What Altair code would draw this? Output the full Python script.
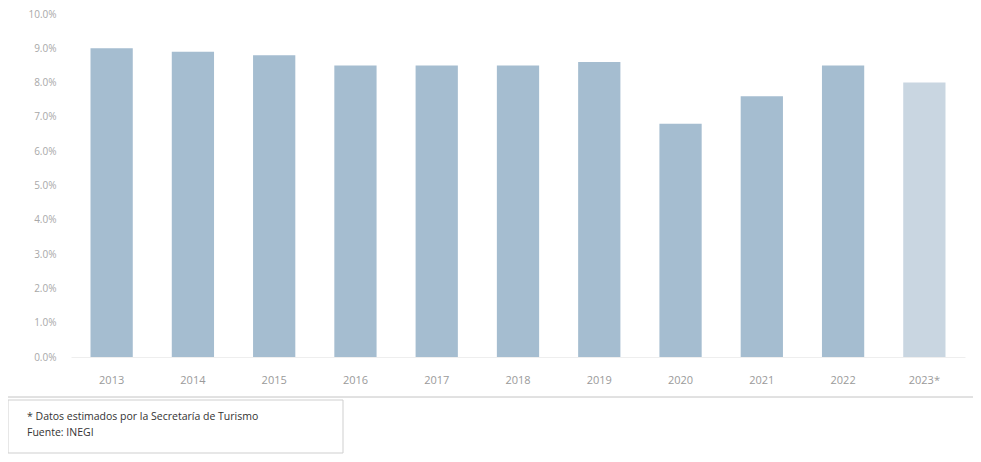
import altair as alt
import pandas as pd

years = ["2013", "2014", "2015", "2016", "2017", "2018", "2019", "2020", "2021", "2022", "2023*"]
values = [9.0, 8.9, 8.8, 8.5, 8.5, 8.5, 8.6, 6.8, 7.6, 8.5, 8.0]
kind = ["real"] * 10 + ["estimado"]
y_ticks = [0, 1, 2, 3, 4, 5, 6, 7, 8, 9, 10]
notes = ["* Datos estimados por la Secretaría de Turismo", "Fuente: INEGI"]

df = pd.DataFrame({"year": years, "value": values, "kind": kind})

W, H = 894, 343
TOP = 6

bars = alt.Chart(df).mark_bar().encode(
    x=alt.X("year:N", sort=years, title=None,
            scale=alt.Scale(paddingInner=0.48, paddingOuter=0.24),
            axis=alt.Axis(labelAngle=0, ticks=False, domain=True, domainColor="#eeeeee",
                          labelPadding=17, labelFontSize=11, labelColor="#9a9a9a",
                          labelFont="Open Sans")),
    y=alt.Y("value:Q", title=None,
            scale=alt.Scale(domain=[0, 10], nice=False),
            axis=alt.Axis(values=y_ticks, grid=False, ticks=False, domain=False,
                          labelExpr="format(datum.value, '.1f') + '%'",
                          labelPadding=15, labelFontSize=10, labelColor="#a8a8a8",
                          labelFont="Open Sans")),
    color=alt.Color("kind:N", legend=None,
                    scale=alt.Scale(domain=["real", "estimado"], range=["#a5bdd0", "#c9d6e1"])),
)

# offsets relative to plot area origin (page y = 8 + TOP + offset)
y0 = 8 + TOP

rule = alt.Chart(pd.DataFrame({"a": [0]})).mark_rule(color="#c4c4c4", strokeWidth=1).encode(
    x=alt.value(-71), x2=alt.value(910), y=alt.value(397 - y0)
)

box = alt.Chart(pd.DataFrame({"a": [0]})).mark_rect(
    fill="white", stroke="#cfcfcf", strokeWidth=1
).encode(x=alt.value(-63), x2=alt.value(272), y=alt.value(400 - y0), y2=alt.value(453 - y0))

note1 = alt.Chart(pd.DataFrame({"t": [notes[0]]})).mark_text(
    align="left", baseline="middle", fontSize=10.5, color="#333333", font="Open Sans"
).encode(text="t:N", x=alt.value(-44), y=alt.value(417 - y0))

note2 = alt.Chart(pd.DataFrame({"t": [notes[1]]})).mark_text(
    align="left", baseline="middle", fontSize=10.5, color="#333333", font="Open Sans"
).encode(text="t:N", x=alt.value(-44), y=alt.value(433 - y0))

chart = alt.layer(bars, rule, box, note1, note2).properties(
    width=W, height=H,
    autosize=alt.AutoSizeParams(type="none"),
    padding={"left": 63, "top": TOP, "right": 8, "bottom": 446 - TOP - H},
    background="white",
).configure_view(stroke=None)

chart.save("out.html", embed_options={"renderer": "svg", "actions": False})
